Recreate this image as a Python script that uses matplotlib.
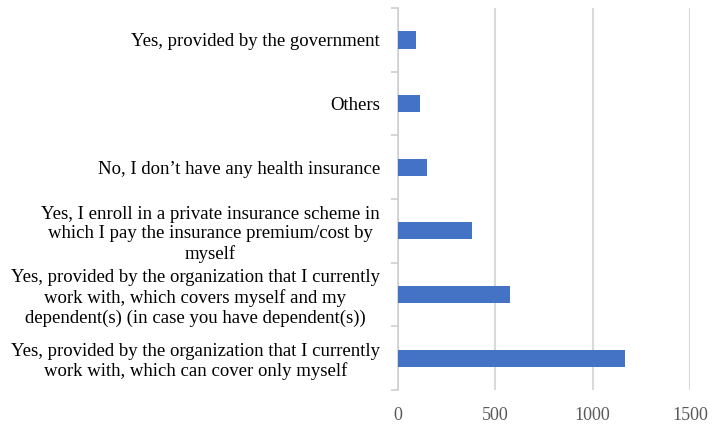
import numpy as np
import matplotlib
matplotlib.use("Agg")
import matplotlib.pyplot as plt
from matplotlib.ticker import FixedLocator

# categories listed bottom -> top
categories = [
    "Yes, provided by the organization that I currently\nwork with, which can cover only myself",
    "Yes, provided by the organization that I currently\nwork with, which covers myself and my\ndependent(s) (in case you have dependent(s))",
    "Yes, I enroll in a private insurance scheme in\nwhich I pay the insurance premium/cost by\nmyself",
    "No, I don\u2019t have any health insurance",
    "Others",
    "Yes, provided by the government",
]
counts = [1167, 576, 380, 149, 113, 91]
xticks = [0, 500, 1000, 1500]

plt.rcParams["font.family"] = ["Liberation Serif", "DejaVu Serif"]

fig = plt.figure(figsize=(7.18, 4.26), dpi=100)
ax = fig.add_axes([0.5543, 0.0845, 0.4067, 0.8965])

y = np.arange(len(categories))
ax.barh(y, counts, height=0.27, color="#4472C4", zorder=3)

ax.set_xlim(0, 1500)
ax.set_ylim(-0.5, len(categories) - 0.5)
ax.set_xticks(xticks)
ax.set_xticklabels([str(t) for t in xticks], fontsize=13, color="#595959")
ax.tick_params(axis="x", length=0, pad=12)
ax.grid(axis="x", color="#d9d9d9", linewidth=1.5, zorder=0)

ax.set_yticks(y)
ax.set_yticklabels(categories, fontsize=13.5, color="black")
for lab in ax.get_yticklabels():
    lab.set_multialignment("center")
    lab.set_linespacing(1.2)
ax.tick_params(axis="y", which="major", length=0, pad=13)
ax.yaxis.set_minor_locator(FixedLocator(np.arange(-0.5, len(categories), 1.0)))
ax.tick_params(axis="y", which="minor", length=5, color="#d0d0d0", width=1.2)

for s in ["top", "right", "bottom"]:
    ax.spines[s].set_visible(False)
ax.spines["left"].set_color("#d0d0d0")
ax.spines["left"].set_linewidth(1.2)

fig.savefig("out.png", dpi=100)
